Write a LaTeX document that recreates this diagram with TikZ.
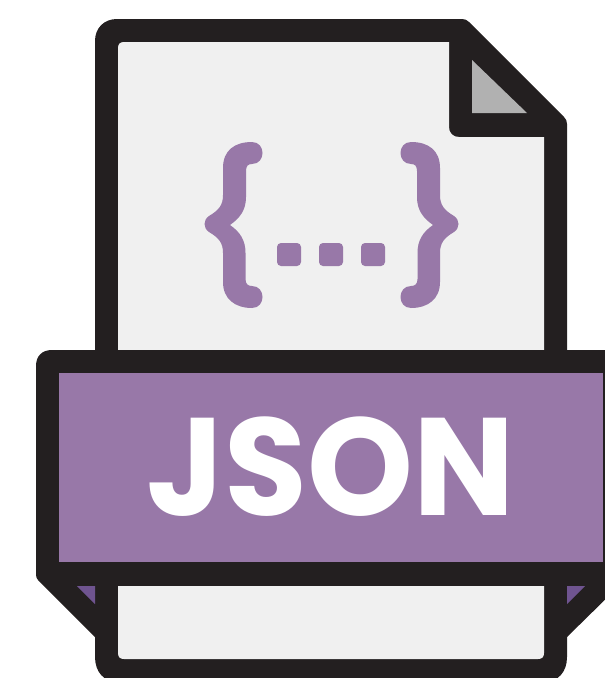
\documentclass[tikz,border=0pt]{standalone}
\usepackage{fontspec}
\setmainfont{Poppins}
\definecolor{ink}{HTML}{231F20}
\definecolor{paper}{HTML}{F0F0F0}
\definecolor{lilac}{HTML}{9878A8}
\definecolor{lilacdark}{HTML}{6F5490}
\definecolor{foldgrey}{HTML}{B1B1B1}
\newcommand{\bracepath}{%
  \fill[bracefill] (252,142) .. controls (235,142) and (223,150) .. (223,168)
      -- (223,195) .. controls (223,205) and (219,210) .. (209,216)
      .. controls (203,220) and (203,228) .. (209,232)
      .. controls (219,238) and (223,243) .. (223,253)
      -- (223,282) .. controls (223,299) and (235,308) .. (252,308)
      .. controls (266,308) and (266,286) .. (252,286)
      .. controls (248,286) and (245.5,284) .. (245.5,279)
      -- (245.5,253) .. controls (245.5,240) and (240,232) .. (230,225)
      .. controls (240,218) and (246,210) .. (246,197)
      -- (246,171) .. controls (246,166) and (248,164) .. (252,164)
      .. controls (266,164) and (266,142) .. (252,142) -- cycle;}
\tikzset{
  bracefill/.style={fill=lilac},
  dotsq/.style={fill=lilac,rounded corners=3pt}
}
\begin{document}
\begin{tikzpicture}[x=0.75pt,y=-0.75pt]
\useasboundingbox (0,0) rectangle (605,678);
\begin{scope}
\clip (0,0) rectangle (605,678);
% document outline
\fill[ink] (95,657) -- (95,41) .. controls (95,28) and (104,19) .. (117,19)
  -- (462,19) .. controls (465,19) and (467,20) .. (469,22)
  -- (564,117) .. controls (566,119) and (567,121) .. (567,124)
  -- (567,657) .. controls (567,672) and (558,682) .. (544,682)
  -- (118,682) .. controls (104,682) and (95,672) .. (95,657) -- cycle;
% page, with the folded corner cut out
\fill[paper] (118,352) -- (118,48) .. controls (118,44) and (120,42) .. (124,42)
  -- (449,42) -- (449,127) .. controls (449,133) and (453,137) .. (459,137)
  -- (544,137) -- (544,352) -- cycle;
% fold
\fill[foldgrey] (472,60) -- (472,113) -- (527,113) -- cycle;
% braces
\bracepath
\begin{scope}[x=-0.75pt,xshift=497.25pt]
\bracepath
\end{scope}
\fill[dotsq] (277,243) rectangle (301,266);
\fill[dotsq] (319,243) rectangle (343,266);
\fill[dotsq] (361,243) rectangle (385,266);
% band with folded tails
\fill[ink] (95,637) -- (38,580) .. controls (37,579) and (36,577) .. (36,575)
  -- (36,366) .. controls (36,356) and (42,350) .. (52,350)
  -- (620,350) -- (620,585) -- (567,637) -- cycle;
\fill[lilac] (59,373) rectangle (603,562);
\fill[lilacdark] (77,586) -- (95,586) -- (95,604) -- cycle;
\fill[lilacdark] (567,586) -- (585,586) -- (567,604) -- cycle;
% lower page
\fill[paper] (118,586) -- (118,653) .. controls (118,657) and (120,659) .. (124,659)
  -- (538,659) .. controls (542,659) and (544,657) .. (544,653) -- (544,586) -- cycle;
\end{scope}
\node[text=white,font=\fontsize{104}{104}\selectfont\bfseries,inner sep=0pt,anchor=base,xscale=0.972,transform shape] (label) at (331,515) {JSON};
\end{tikzpicture}
\end{document}
